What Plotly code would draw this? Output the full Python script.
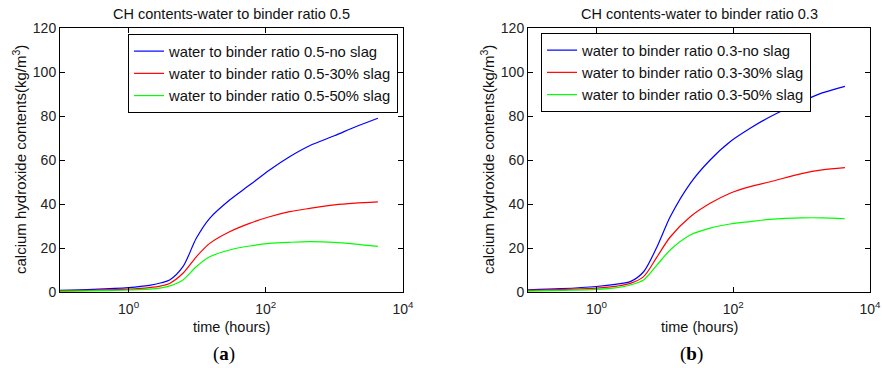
import plotly.graph_objects as go

# ---- data ----
t_a_blue = [0.1, 0.3, 1, 2, 3, 3.96, 6.2, 9.7, 15.2, 29.7, 58, 113.6, 222, 435, 1000, 2000, 4300]
a_blue = [0.8, 1.2, 2.0, 3.0, 4.2, 5.45, 11.5, 24.4, 33.5, 41.8, 48.6, 55.5, 61.5, 66.5, 71, 75, 79]
t_a_red = [0.1, 0.3, 1, 2, 3, 3.96, 6.2, 9.7, 15.2, 29.7, 58, 113.6, 222, 435, 1000, 2000, 4300]
a_red = [0.5, 0.8, 1.3, 2.0, 2.8, 3.9, 8.5, 16, 22.1, 27.4, 31.2, 34.2, 36.5, 38, 39.6, 40.4, 41]
t_a_green = [0.1, 0.5, 1, 2, 3, 4, 6.2, 9.7, 15.2, 29.7, 58, 113.6, 222, 435, 1000, 2000, 4300]
a_green = [0.3, 0.6, 0.9, 1.3, 1.9, 2.8, 5.5, 11.5, 16, 19.1, 20.9, 22.1, 22.6, 22.9, 22.6, 21.8, 20.7]

t_b_blue = [0.1, 0.3, 1, 2, 3.13, 4.9, 7.7, 12, 23.6, 46, 90, 177, 347, 1000, 2000, 4300]
b_blue = [1.0, 1.5, 2.5, 3.6, 4.7, 9.2, 20.6, 34.2, 49.4, 60, 68.3, 74.4, 79.7, 86.5, 90.5, 93.5]
t_b_red = [0.1, 1, 2, 3.13, 4.9, 7.7, 12, 23.6, 46, 90, 177, 347, 1000, 2000, 4300]
b_red = [0.7, 1.8, 2.7, 3.9, 7, 16, 25, 34.2, 40.3, 44.9, 47.9, 50.1, 53.8, 55.5, 56.5]
t_b_green = [0.1, 1, 2, 3.13, 4.9, 7.7, 12, 23.6, 46, 90, 177, 347, 1000, 2000, 4300]
b_green = [0.4, 1.2, 2.0, 3.2, 5.5, 12.3, 19.1, 25.9, 29, 30.9, 32, 33, 33.7, 33.7, 33.3]

names_a = ["water to binder ratio 0.5-no slag", "water to binder ratio 0.5-30% slag", "water to binder ratio 0.5-50% slag"]
names_b = ["water to binder ratio 0.3-no slag", "water to binder ratio 0.3-30% slag", "water to binder ratio 0.3-50% slag"]
titles = ["CH contents-water to binder ratio 0.5", "CH contents-water to binder ratio 0.3"]
xtick_vals = [1, 100, 10000]
xtick_text = ["10<sup>0</sup>", "10<sup>2</sup>", "10<sup>4</sup>"]
colors = ["rgb(0,0,255)", "rgb(255,0,0)", "rgb(0,255,0)"]

W, H = 882, 368
FONT = "Liberation Sans, Arial, sans-serif"

fig = go.Figure()
series_a = [(t_a_blue, a_blue), (t_a_red, a_red), (t_a_green, a_green)]
series_b = [(t_b_blue, b_blue), (t_b_red, b_red), (t_b_green, b_green)]
for (x, y), n, c in zip(series_a, names_a, colors):
    fig.add_trace(go.Scatter(x=x, y=y, name=n, mode="lines",
                             line=dict(color=c, width=1.2, shape="spline", smoothing=0.8),
                             xaxis="x", yaxis="y", legend="legend"))
for (x, y), n, c in zip(series_b, names_b, colors):
    fig.add_trace(go.Scatter(x=x, y=y, name=n, mode="lines",
                             line=dict(color=c, width=1.2, shape="spline", smoothing=0.8),
                             xaxis="x2", yaxis="y2", legend="legend2"))

ytop, ybot = 1 - 28 / H, 1 - 292 / H
dom1 = [60 / W, 403 / W]
dom2 = [528 / W, 870 / W]

xax = dict(type="log", range=[-1, 4], tickvals=xtick_vals, ticktext=xtick_text, ticks="inside", ticklen=5,
           showline=True, linecolor="black", linewidth=1, mirror="ticks", showgrid=False, zeroline=False,
           tickfont=dict(family=FONT, size=14, color="#222"), tickcolor="black", automargin=False,
           ticklabelstandoff=4)
yax = dict(range=[0, 120], dtick=20, ticks="inside", ticklen=5, showline=True, linecolor="black", linewidth=1,
           mirror="ticks", showgrid=False, zeroline=False, tickfont=dict(family=FONT, size=14, color="#222"),
           tickcolor="black", automargin=False)

legend_common = dict(bgcolor="white", bordercolor="black", borderwidth=1,
                     font=dict(family=FONT, size=14.8, color="#111"), tracegroupgap=0, itemwidth=30)

fig.update_layout(
    width=W, height=H, autosize=False, margin=dict(l=0, r=0, t=0, b=0, autoexpand=False),
    paper_bgcolor="white", plot_bgcolor="white",
    xaxis=dict(domain=dom1, anchor="y", **xax),
    yaxis=dict(domain=[ybot, ytop], anchor="x", **yax),
    xaxis2=dict(domain=dom2, anchor="y2", **xax),
    yaxis2=dict(domain=[ybot, ytop], anchor="x2", **yax),
    legend=dict(x=398 / W, y=1 - 34 / H, xanchor="right", yanchor="top", **legend_common),
    legend2=dict(x=541 / W, y=1 - 33 / H, xanchor="left", yanchor="top", **legend_common),
)

ann = []
for dom, title, ytx in [(dom1, titles[0], 20), (dom2, titles[1], 488)]:
    cx = (dom[0] + dom[1]) / 2
    ann.append(dict(x=cx, y=1 - 14 / H, xref="paper", yref="paper", text=title, showarrow=False,
                    font=dict(family=FONT, size=14.5, color="#111"), xanchor="center", yanchor="middle"))
    ann.append(dict(x=cx, y=1 - 327 / H, xref="paper", yref="paper", text="time (hours)", showarrow=False,
                    font=dict(family=FONT, size=14.5, color="#111"), xanchor="center", yanchor="middle"))
    ann.append(dict(x=ytx / W, y=1 - 160 / H, xref="paper", yref="paper",
                    text="calcium hydroxide contents(kg/m<sup>3</sup>)", textangle=-90, showarrow=False,
                    font=dict(family=FONT, size=15, color="#111"), xanchor="center", yanchor="middle"))
ann.append(dict(x=224 / W, y=1 - 354 / H, xref="paper", yref="paper", text="(<b>a</b>)", showarrow=False,
                xanchor="center", yanchor="middle",
                font=dict(family="Liberation Serif, serif", size=19, color="black")))
ann.append(dict(x=691 / W, y=1 - 354 / H, xref="paper", yref="paper", text="(<b>b</b>)", showarrow=False,
                xanchor="center", yanchor="middle",
                font=dict(family="Liberation Serif, serif", size=19, color="black")))
fig.update_layout(annotations=ann)

fig.write_html("out.html", post_script="document.body.style.margin='0px';")
